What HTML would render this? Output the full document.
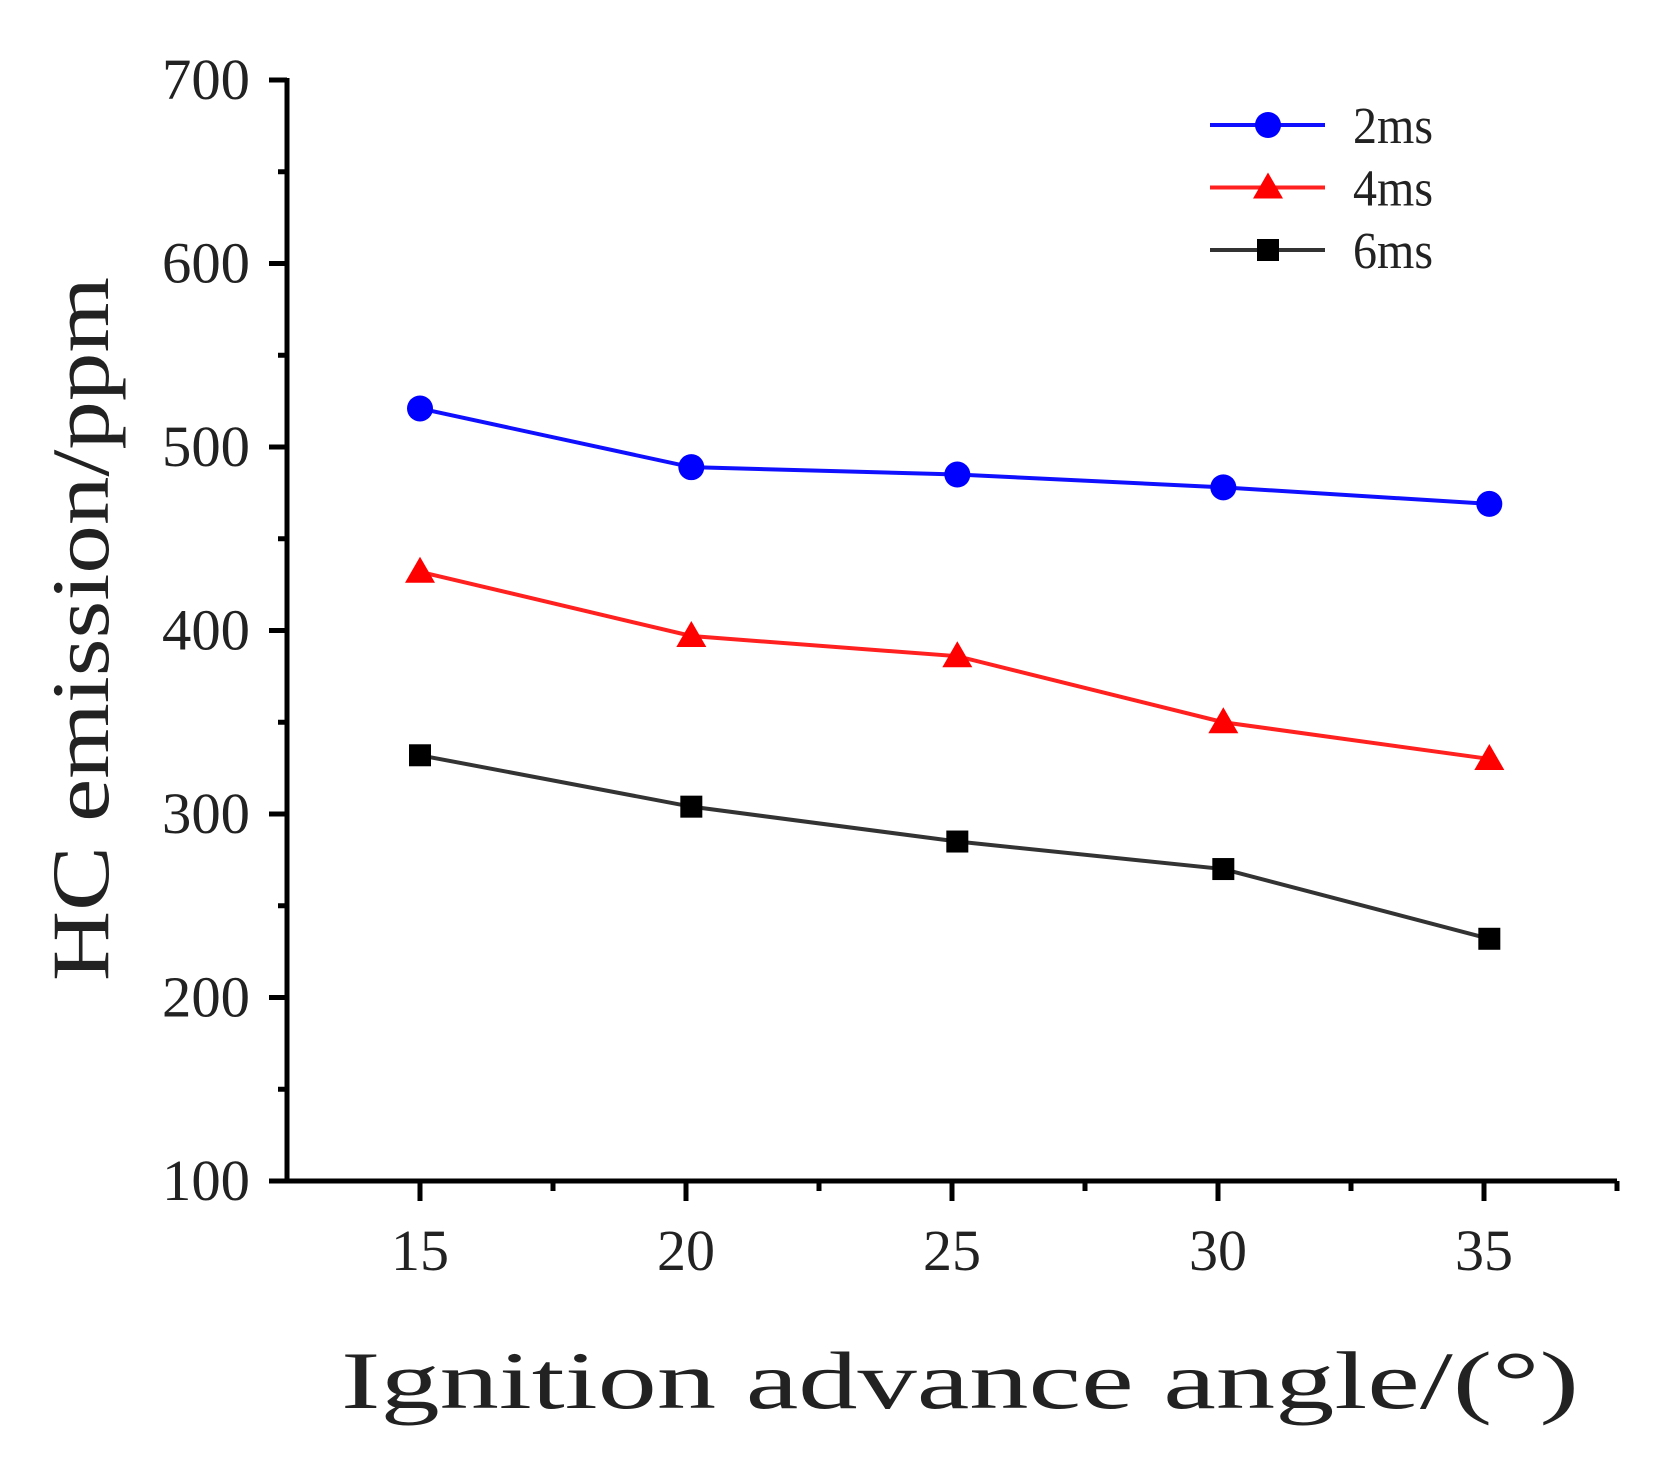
<!DOCTYPE html>
<html><head><meta charset="utf-8"><style>
html,body{margin:0;padding:0;background:#fff;}
svg text{font-family:"Liberation Serif",serif;fill:#222;}
</style></head><body>
<svg id="chart" width="1670" height="1459" xmlns="http://www.w3.org/2000/svg">
<g id="axes"></g>
<g id="series"></g>
<g id="legend"></g>
<text x="341" y="1408" font-size="82" textLength="1238" lengthAdjust="spacingAndGlyphs">Ignition advance angle/(°)</text>
<text transform="translate(108,629) rotate(-90)" text-anchor="middle" font-size="82" textLength="704" lengthAdjust="spacingAndGlyphs">HC emission/ppm</text>
</svg>
<script>
const xValues = [15, 20.1, 25.1, 30.1, 35.1];
const xTicks = [15, 20, 25, 30, 35];
const yTicks = [100, 200, 300, 400, 500, 600, 700];
const s2ms = [521, 489, 485, 478, 469];
const s4ms = [432, 397, 386, 350, 330];
const s6ms = [332, 304, 285, 270, 232];
const seriesNames = ['2ms', '4ms', '6ms'];

const NS = 'http://www.w3.org/2000/svg';
const X0 = 287, X1 = 1617, Y0 = 1181, Y1 = 80;
const xMin = 12.5, xMax = 37.5, yMin = 100, yMax = 700;
function sx(v){ return X0 + (v - xMin) / (xMax - xMin) * (X1 - X0); }
function sy(v){ return Y0 - (v - yMin) / (yMax - yMin) * (Y0 - Y1); }
function mk(tag, attrs, parent){
  const e = document.createElementNS(NS, tag);
  for (const k in attrs) e.setAttribute(k, attrs[k]);
  parent.appendChild(e); return e;
}
const axes = document.getElementById('axes');
let e;
e = mk('line', {x1:X0, y1:Y0, x2:X1, y2:Y0, stroke:'#000', 'stroke-width':5}, axes);


e = mk('line', {x1:X0, y1:Y0+2, x2:X0, y2:Y1-2, stroke:'#000', 'stroke-width':5}, axes);


yTicks.forEach(function(t){
  const y = sy(t);
  e = mk('line', {x1:X0-18, y1:y, x2:X0, y2:y, stroke:'#000', 'stroke-width':5}, axes);
  
  
  e = mk('text', {x:250, y:y+19, 'text-anchor':'end', 'font-size':58, textLength:88, lengthAdjust:'spacingAndGlyphs'}, axes);
  e.textContent = t;
  
  
  if (t < 700) {
    e = mk('line', {x1:X0-9, y1:sy(t+50), x2:X0, y2:sy(t+50), stroke:'#000', 'stroke-width':5}, axes);
    
    
  }
});
xTicks.forEach(function(t){
  const x = sx(t);
  e = mk('line', {x1:x, y1:Y0, x2:x, y2:Y0+20, stroke:'#000', 'stroke-width':5}, axes);
  
  
  e = mk('text', {x:x, y:1270, 'text-anchor':'middle', 'font-size':58, textLength:58, lengthAdjust:'spacingAndGlyphs'}, axes);
  e.textContent = t;
  
  
  e = mk('line', {x1:sx(t+2.5), y1:Y0, x2:sx(t+2.5), y2:Y0+10, stroke:'#000', 'stroke-width':5}, axes);
  
  
});
function marker(kind, x, y, color, parent){
  let m;
  if (kind === 'circle') m = mk('circle', {cx:x, cy:y, r:13, fill:color}, parent);
  else if (kind === 'tri') m = mk('polygon', {points:(x-15)+','+(y+11)+' '+(x+15)+','+(y+11)+' '+x+','+(y-15), fill:color}, parent);
  else m = mk('rect', {x:x-11, y:y-11, width:22, height:22, fill:color}, parent);
  return m;
}
const seriesDefs = [[s2ms,'#1010ff','#0000ff','circle'],[s4ms,'#ff2020','#ff0000','tri'],[s6ms,'#333','#000','square']];
const sg = document.getElementById('series');
seriesDefs.forEach(function(d, i){
  const vals = d[0];
  const pts = vals.map(function(v, j){ return sx(xValues[j]) + ',' + sy(v); }).join(' ');
  e = mk('polyline', {points:pts, fill:'none', stroke:d[1], 'stroke-width':4}, sg);
  
  
  vals.forEach(function(v, j){
    e = marker(d[3], sx(xValues[j]), sy(v), d[2], sg);
    
    
  });
  const lg = document.getElementById('legend');
  const ly = 125 + i * 62.5;
  e = mk('line', {x1:1210, y1:ly, x2:1325, y2:ly, stroke:d[1], 'stroke-width':4}, lg);
  
  
  e = marker(d[3], 1268, ly, d[2], lg);
  
  
  e = mk('text', {x:1353, y:ly+18, 'font-size':52, textLength:80, lengthAdjust:'spacingAndGlyphs'}, lg);
  e.textContent = seriesNames[i];
  
  
});
</script>
</body></html>
